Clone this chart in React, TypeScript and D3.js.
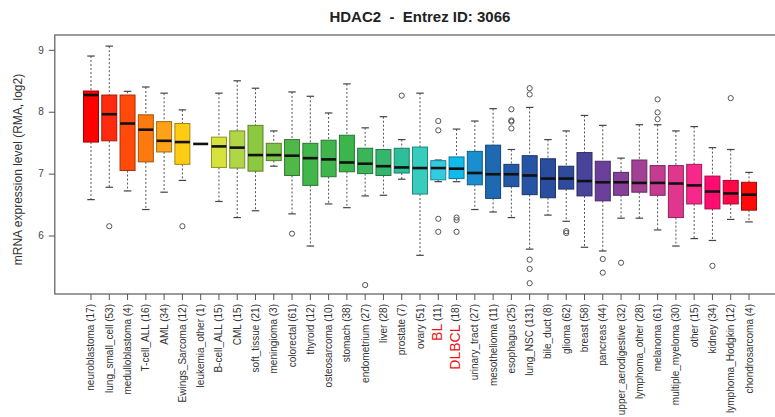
import React, { useRef, useEffect } from 'react';
import * as d3 from 'd3';

// tumour types, in plot order
const categories = [
  'neuroblastoma', 'lung_small_cell', 'medulloblastoma', 'T-cell_ALL', 'AML',
  'Ewings_Sarcoma', 'leukemia_other', 'B-cell_ALL', 'CML', 'soft_tissue',
  'meningioma', 'colorectal', 'thyroid', 'osteosarcoma', 'stomach',
  'endometrium', 'liver', 'prostate', 'ovary', 'BL', 'DLBCL', 'urinary_tract',
  'mesothelioma', 'esophagus', 'lung_NSC', 'bile_duct', 'glioma', 'breast',
  'pancreas', 'upper_aerodigestive', 'lymphoma_other', 'melanoma',
  'multiple_myeloma', 'other', 'kidney', 'lymphoma_Hodgkin', 'chondrosarcoma'
];
const counts = [17, 53, 4, 16, 34, 12, 1, 15, 15, 21, 3, 61, 12, 10, 38, 27, 28, 7, 51, 11,
  18, 27, 11, 25, 131, 8, 62, 58, 44, 32, 28, 61, 30, 15, 34, 12, 4];
const highlighted = ['BL', 'DLBCL'];

// box statistics (log2 RMA)
const upper = [8.90, 9.06, 8.33, 8.40, 8.30, 8.03, 7.48, 8.30, 8.50, 8.38, 7.69, 8.32, 8.25,
  7.98, 8.45, 7.74, 7.92, 7.55, 8.30, 7.22, 7.72, 7.85, 8.05, 7.39, 8.07, 7.55, 7.69, 7.94,
  7.78, 7.25, 7.79, 7.79, 7.69, 7.76, 7.42, 7.39, 7.02];
const q3 = [8.335, 8.27, 8.27, 7.95, 7.84, 7.81, 7.48, 7.59, 7.69, 7.78, 7.49, 7.55, 7.49,
  7.54, 7.62, 7.41, 7.39, 7.41, 7.43, 7.21, 7.27, 7.36, 7.46, 7.15, 7.29, 7.24, 7.12, 7.34,
  7.20, 7.02, 7.22, 7.13, 7.13, 7.15, 6.96, 6.89, 6.86];
const medians = [8.27, 7.96, 7.81, 7.71, 7.53, 7.51, 7.48, 7.44, 7.42, 7.30, 7.30, 7.29, 7.25,
  7.23, 7.18, 7.16, 7.12, 7.10, 7.09, 7.09, 7.08, 7.01, 6.99, 6.99, 6.97, 6.92, 6.92, 6.88,
  6.86, 6.86, 6.85, 6.85, 6.84, 6.81, 6.71, 6.68, 6.66];
const q1 = [7.51, 7.53, 7.05, 7.19, 7.35, 7.15, 7.48, 7.10, 7.09, 7.04, 7.21, 6.97, 6.81,
  6.95, 7.03, 7.00, 6.97, 7.01, 6.67, 6.90, 6.92, 6.82, 6.60, 6.79, 6.66, 6.61, 6.75, 6.64,
  6.56, 6.65, 6.70, 6.65, 6.29, 6.51, 6.43, 6.51, 6.41];
const lower = [6.58, 6.78, 6.72, 6.42, 6.70, 6.89, 7.48, 6.55, 6.29, 6.40, 7.12, 6.35, 5.83,
  6.51, 6.45, 6.64, 6.65, 6.91, 5.68, 6.87, 6.87, 6.42, 6.38, 6.29, 5.78, 6.33, 6.23, 5.81,
  5.75, 6.28, 6.28, 6.09, 5.83, 5.95, 5.92, 6.26, 6.22];
const outliers = [[], [6.15], [], [], [], [6.15], [], [], [], [], [], [6.03], [], [], [],
  [5.20], [], [8.26], [], [7.85, 7.70, 6.27, 6.06], [6.29, 6.25, 6.06], [], [],
  [8.04, 7.86, 7.84, 7.73], [8.38, 8.28, 5.61, 5.46, 5.23], [], [6.07, 6.04], [],
  [5.62, 5.40], [5.56], [], [8.20, 7.99, 7.88], [], [], [5.51], [8.22], []];
const yTicks = [6, 7, 8, 9];

const palette = [
  '#ff0000', '#ff2a0f', '#ff4a0a', '#ff7a0e', '#ffa21a', '#ffcc14', '#f0e020', '#d8e23c',
  '#b0d648', '#8cc840', '#7cc448', '#50b848', '#42b64a', '#3fb54c', '#3cb54c', '#3ab55a',
  '#34b66c', '#2cbf98', '#38ccbc', '#30cde0', '#10bbec', '#1a8ece', '#1f68b2', '#2458a8',
  '#2753a4', '#2a4d9e', '#2e4b9c', '#48449a', '#6a409a', '#86409a', '#a24094', '#c43c92',
  '#e0368e', '#f8288a', '#ff0c70', '#ff0848', '#ff0a0a'
];

const width = 775;
const height = 417;
const font = '"Liberation Sans", Arial, sans-serif';

const App = () => {
  const ref = useRef<SVGSVGElement>(null);

  useEffect(() => {
    const svg = d3.select(ref.current);
    svg.selectAll('*').remove();

    const plot = { left: 54.8, right: 785, top: 35, bottom: 294 };

    const x = d3.scaleBand()
      .domain(categories)
      .range([91 - 9.14, 749 + 9.14])
      .paddingInner(0)
      .paddingOuter(0);
    const cx = (c: string) => (x(c) as number) + x.bandwidth() / 2;
    const boxW = x.bandwidth() * 0.82;

    const y = d3.scaleLinear().domain([5.055, 9.24]).range([plot.bottom, plot.top]);

    const data = categories.map((c, i) => ({
      name: c, n: counts[i], hi: upper[i], q3: q3[i], med: medians[i],
      q1: q1[i], lo: lower[i], out: outliers[i], color: palette[i]
    }));

    // title
    svg.append('text')
      .attr('x', (plot.left + plot.right) / 2)
      .attr('y', 22)
      .attr('text-anchor', 'middle')
      .attr('font-family', font)
      .attr('font-size', 15)
      .attr('font-weight', 'bold')
      .attr('fill', '#222')
      .style('white-space', 'pre')
      .text('HDAC2  -  Entrez ID: 3066');

    // frame
    svg.append('rect')
      .attr('x', plot.left)
      .attr('y', plot.top)
      .attr('width', plot.right - plot.left)
      .attr('height', plot.bottom - plot.top)
      .attr('fill', 'none')
      .attr('stroke', '#666')
      .attr('stroke-width', 1.3);

    // y axis
    const yAxis = svg.append('g')
      .attr('transform', `translate(${plot.left},0)`)
      .call(d3.axisLeft(y).tickValues(yTicks).tickSize(6).tickPadding(5).tickFormat(d3.format('d')));
    yAxis.select('.domain').remove();
    yAxis.selectAll('line').attr('stroke', '#555');
    yAxis.selectAll('text')
      .attr('font-family', font)
      .attr('font-size', 10)
      .attr('fill', '#444');

    svg.append('text')
      .attr('transform', `translate(22,${(plot.top + plot.bottom) / 2 + 5}) rotate(-90)`)
      .attr('text-anchor', 'middle')
      .attr('font-family', font)
      .attr('font-size', 12)
      .attr('fill', '#333')
      .text('mRNA expression level (RMA, log2)');

    // x axis ticks
    const xAxis = svg.append('g')
      .attr('transform', `translate(0,${plot.bottom})`)
      .call(d3.axisBottom(x).tickSize(6).tickFormat(() => ''));
    xAxis.select('.domain').remove();
    xAxis.selectAll('line').attr('stroke', '#555');

    const labels = svg.append('g')
      .selectAll('text')
      .data(data)
      .enter()
      .append('text')
      .attr('transform', d => `translate(${cx(d.name)},304) rotate(-90)`)
      .attr('text-anchor', 'end')
      .attr('dy', '0.35em')
      .attr('font-family', font)
      .attr('font-size', 10)
      .attr('fill', '#333');
    labels.each(function (d) {
      const t = d3.select(this);
      if (highlighted.includes(d.name)) {
        t.append('tspan').attr('font-size', 14).attr('fill', '#ee1111').text(d.name);
        t.append('tspan').attr('dy', '-0.1em').text(` (${d.n})`);
      } else {
        t.text(`${d.name} (${d.n})`);
      }
    });

    // boxes
    const g = svg.append('g')
      .selectAll('g')
      .data(data)
      .enter()
      .append('g');

    const multi = g.filter(d => d.n > 1);

    multi.append('line')
      .attr('x1', d => cx(d.name))
      .attr('x2', d => cx(d.name))
      .attr('y1', d => y(d.hi))
      .attr('y2', d => y(d.q3))
      .attr('stroke', '#555')
      .attr('stroke-dasharray', '2,2');
    multi.append('line')
      .attr('x1', d => cx(d.name))
      .attr('x2', d => cx(d.name))
      .attr('y1', d => y(d.q1))
      .attr('y2', d => y(d.lo))
      .attr('stroke', '#555')
      .attr('stroke-dasharray', '2,2');
    multi.selectAll('line.cap')
      .data(d => [d.hi, d.lo].map(v => ({ v, c: cx(d.name) })))
      .enter()
      .append('line')
      .attr('class', 'cap')
      .attr('x1', d => d.c - boxW / 4)
      .attr('x2', d => d.c + boxW / 4)
      .attr('y1', d => y(d.v))
      .attr('y2', d => y(d.v))
      .attr('stroke', '#444')
      .attr('stroke-width', 1.2);

    multi.append('rect')
      .attr('x', d => cx(d.name) - boxW / 2)
      .attr('width', boxW)
      .attr('y', d => y(d.q3))
      .attr('height', d => y(d.q1) - y(d.q3))
      .attr('fill', d => d.color)
      .attr('stroke', d => d3.color(d.color)!.darker(1.2).formatHex())
      .attr('stroke-width', 1);

    g.append('line')
      .attr('x1', d => cx(d.name) - boxW / 2)
      .attr('x2', d => cx(d.name) + boxW / 2)
      .attr('y1', d => y(d.med))
      .attr('y2', d => y(d.med))
      .attr('stroke', '#111')
      .attr('stroke-width', 2.6);

    g.selectAll('circle')
      .data(d => d.out.map(v => ({ v, c: cx(d.name) })))
      .enter()
      .append('circle')
      .attr('cx', d => d.c)
      .attr('cy', d => y(d.v))
      .attr('r', 2.6)
      .attr('fill', 'none')
      .attr('stroke', '#555')
      .attr('stroke-width', 1);
  }, []);

  return (
    <div style={{ position: 'absolute', left: 0, top: 0 }}>
      <svg ref={ref} width={width} height={height} style={{ display: 'block', background: '#fff' }} />
    </div>
  );
};

export default App;
